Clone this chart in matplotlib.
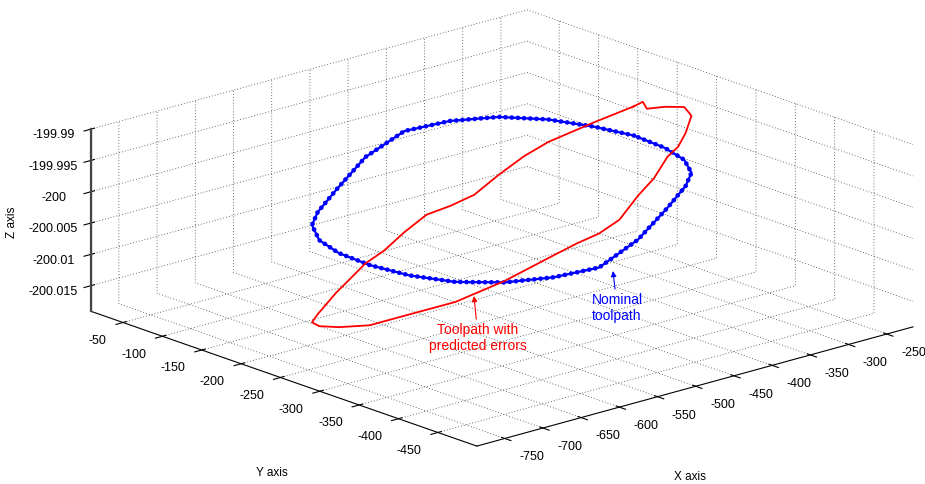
import matplotlib
matplotlib.use('Agg')
import matplotlib.pyplot as plt
from mpl_toolkits.mplot3d import Axes3D  # noqa: F401

plt.rcParams['font.family'] = ['Liberation Sans', 'DejaVu Sans']
plt.rcParams['axes.unicode_minus'] = False

# nominal toolpath
nominal_x = [-327.0, -332.9, -350.2, -377.7, -413.5, -455.2, -500.0, -544.8,
             -586.5, -622.3, -649.8, -667.1, -673.0, -667.1, -649.8, -622.3,
             -586.5, -544.8, -500.0, -455.2, -413.5, -377.7, -350.2, -332.9, -327.0]
nominal_y = [-253.0, -208.2, -166.5, -130.7, -103.2, -85.9, -80.0, -85.9,
             -103.2, -130.7, -166.5, -208.2, -253.0, -297.8, -339.5, -375.3,
             -402.8, -420.1, -426.0, -420.1, -402.8, -375.3, -339.5, -297.8, -253.0]
nominal_z = [-199.99566, -199.99601, -199.99611, -199.99636, -199.99702, -199.99800,
             -200.00090, -200.00444, -200.00580, -200.00548, -200.00538, -200.00505,
             -200.00479, -200.00468, -200.00447, -200.00389, -200.00306, -200.00214,
             -199.99892, -199.99558, -199.99422, -199.99454, -199.99496, -199.99545,
             -199.99566]

# toolpath with predicted errors
predicted_x = [-327.0, -332.9, -350.2, -362.7, -377.7, -394.7, -413.5, -433.8,
               -455.2, -477.4, -500.0, -522.6, -544.8, -586.5, -622.3, -649.8,
               -667.1, -673.0, -667.1, -649.8, -622.3, -586.5, -566.2, -544.8,
               -522.6, -500.0, -477.4, -455.2, -433.8, -413.5, -377.7, -350.2,
               -332.9, -327.9, -327.4, -327.0]
predicted_y = [-253.0, -208.2, -166.5, -147.7, -130.7, -115.7, -103.2, -93.2,
               -85.9, -81.5, -80.0, -81.5, -85.9, -103.2, -130.7, -166.5,
               -208.2, -253.0, -297.8, -339.5, -375.3, -402.8, -412.8, -420.1,
               -424.5, -426.0, -424.5, -420.1, -412.8, -402.8, -375.3, -339.5,
               -297.8, -270.3, -264.7, -253.0]
predicted_z = [-199.99099, -199.99531, -199.99972, -200.00242, -200.00559, -200.00890,
               -200.01061, -200.01175, -200.01414, -200.01656, -200.01789, -200.01964,
               -200.02086, -200.02211, -200.02099, -200.01913, -200.01688, -200.01442,
               -200.01091, -200.00767, -200.00366, -199.99956, -199.99788, -199.99670,
               -199.99504, -199.99192, -199.98992, -199.98743, -199.98687, -199.98575,
               -199.98543, -199.98653, -199.98890, -199.99059, -199.98974, -199.99099]

x_lim = (-786.5, -215.7)
y_lim = (-499.5, -9.3)
z_lim = (-200.0191, -199.99)
x_ticks = [-750, -700, -650, -600, -550, -500, -450, -400, -350, -300, -250]
y_ticks = [-450, -400, -350, -300, -250, -200, -150, -100, -50]
z_ticks = [-200.015, -200.01, -200.005, -200.0, -199.995, -199.99]
z_tick_labels = ['-200.015', '-200.01', '-200.005', '-200', '-199.995', '-199.99']

W, H = 925, 485
fig = plt.figure(figsize=(W / 100, H / 100), dpi=100)
ax = fig.add_axes([0.087, -0.3412, 0.8874, 1.6924], projection='3d')
ax.set_proj_type('ortho')
ax.view_init(elev=18, azim=-131.5)
ax.set_box_aspect((1, 1, 0.329))

ax.plot(nominal_x, nominal_y, nominal_z, color='blue', lw=1.6)
ax.plot(nominal_x, nominal_y, nominal_z, color='blue', lw=3.4,
        linestyle=(0, (0.01, 1.3)), dash_capstyle='round')
ax.plot(predicted_x, predicted_y, predicted_z, color='red', lw=1.3)

# z axis line on the left corner, as MATLAB draws it
ax.plot([x_lim[0], x_lim[0]], [y_lim[1], y_lim[1]], [z_lim[0], z_lim[1]],
        color='#444444', lw=1.6, clip_on=False)

ax.set_xlim(*x_lim)
ax.set_ylim(*y_lim)
ax.set_zlim(*z_lim)
ax.set_xticks(x_ticks, labels=[str(v) for v in x_ticks], ha='left')
ax.set_yticks(y_ticks, labels=[str(v) for v in y_ticks], ha='right')
ax.set_zticks(z_ticks, labels=z_tick_labels)
ax.tick_params(labelsize=9)
ax.tick_params(axis='z', pad=6)

for axis in (ax.xaxis, ax.yaxis, ax.zaxis):
    axis.pane.fill = False
    axis.pane.set_edgecolor('none')
    axis.line.set_color('black')
    axis.line.set_linewidth(0.8)
    axis._axinfo['grid'].update(color='#404040', linewidth=0.6,
                                linestyle=(0, (1, 2.5)))

# axis labels
fig.text(272 / W, 1 - 473 / H, 'Y axis', ha='center', va='center', fontsize=8.5)
fig.text(690 / W, 1 - 477 / H, 'X axis', ha='center', va='center', fontsize=8.5)
fig.text(12 / W, 1 - 222 / H, 'Z axis', ha='center', va='center', fontsize=8.5,
         rotation=90)

ax.annotate('Toolpath with\npredicted errors', xy=(474, H - 297), xytext=(478, H - 338),
            xycoords='figure pixels', textcoords='figure pixels',
            ha='center', va='center', color='red', fontsize=10,
            annotation_clip=False,
            arrowprops=dict(arrowstyle='-|>', color='red', lw=0.8, mutation_scale=8,
                            shrinkA=0, shrinkB=0))
ax.annotate('Nominal\ntoolpath', xy=(613, H - 272), xytext=(617, H - 308),
            xycoords='figure pixels', textcoords='figure pixels',
            ha='center', va='center', color='blue', fontsize=10,
            annotation_clip=False,
            arrowprops=dict(arrowstyle='-|>', color='blue', lw=0.8, mutation_scale=8,
                            shrinkA=0, shrinkB=0))

fig.savefig('out.png', dpi=100)
plt.close(fig)
